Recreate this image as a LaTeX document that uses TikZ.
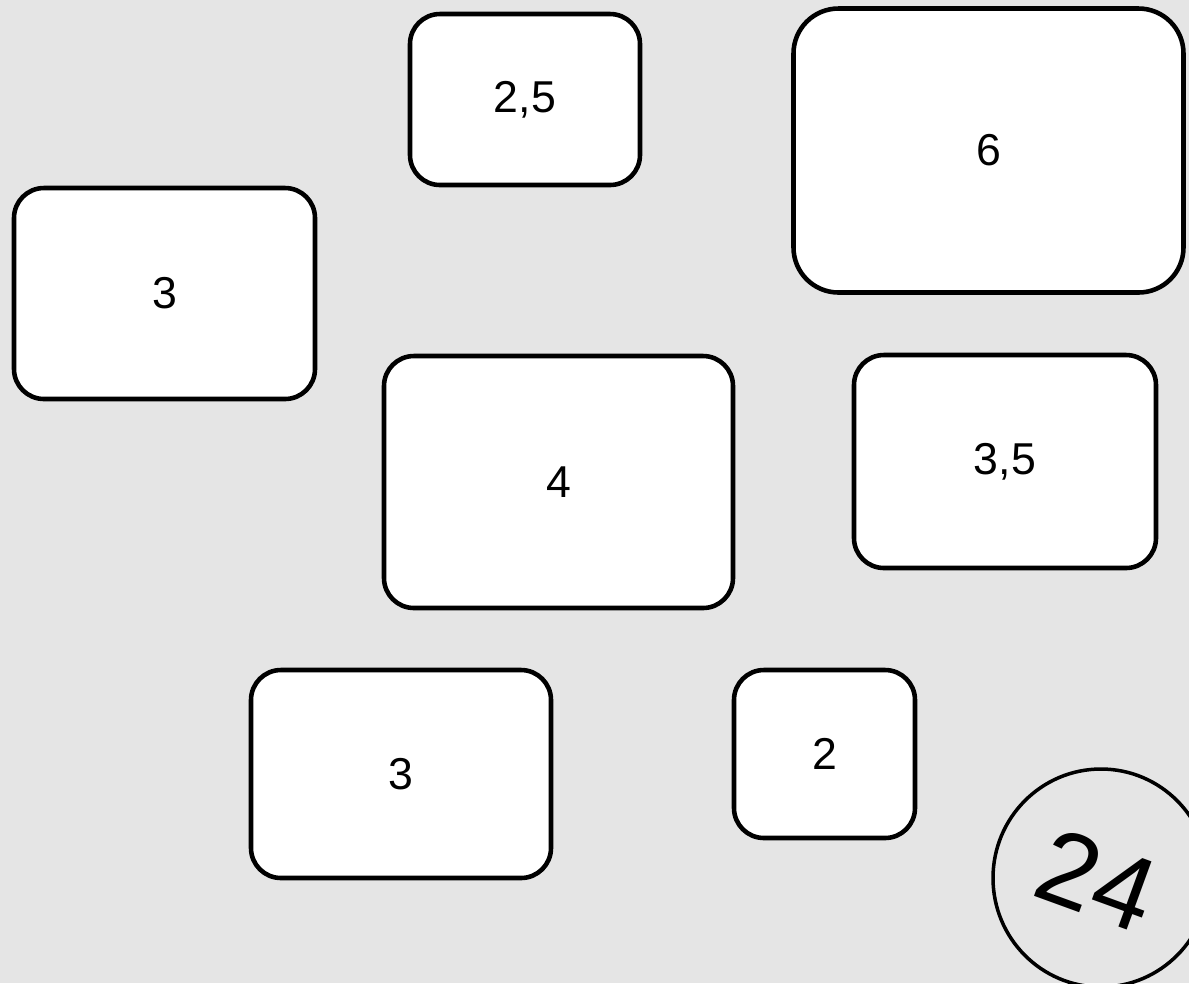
\documentclass[tikz,border=0pt]{standalone}
\usepackage{fontspec}
\setmainfont{Liberation Sans}
\usepackage{tikz}
\definecolor{slidebg}{RGB}{229,229,229}

\begin{document}
\begin{tikzpicture}[
    font=\fontsize{12.7}{15}\selectfont,
    card/.style={draw=black, fill=white, line width=1.3pt, rounded corners=0.3cm, inner sep=0pt},
    bigcard/.style={card, rounded corners=0.45cm}
  ]

  % ---- background (fixes the page size) ----
  \fill[slidebg] (0,0) rectangle (11.89,-9.83);
  \useasboundingbox (0,0) rectangle (11.89,-9.83);

  % ---- top row ----
  \node[card, minimum width=2.30cm, minimum height=1.71cm] (cardA) at (5.25,-0.995) {2,5};
  \node[bigcard, minimum width=3.90cm, minimum height=2.84cm] (cardB) at (9.885,-1.505) {6};

  % ---- middle row ----
  \node[card, minimum width=3.01cm, minimum height=2.11cm] (cardC) at (1.645,-2.935) {3};
  \node[card, minimum width=3.49cm, minimum height=2.52cm] (cardD) at (5.585,-4.82) {4};
  \node[card, minimum width=3.02cm, minimum height=2.13cm] (cardE) at (10.05,-4.615) {3,5};

  % ---- bottom row ----
  \node[card, minimum width=3.00cm, minimum height=2.08cm] (cardF) at (4.01,-7.74) {3};
  \node[card, minimum width=1.81cm, minimum height=1.68cm] (cardG) at (8.245,-7.54) {2};

  % ---- total in a circle ----
  \draw[line width=1pt] (11.01,-8.78) ellipse (1.08cm and 1.09cm);
  \node[font=\fontsize{30}{36}\selectfont, rotate=-20] (total) at (10.97,-8.80) {24};

\end{tikzpicture}
\end{document}
